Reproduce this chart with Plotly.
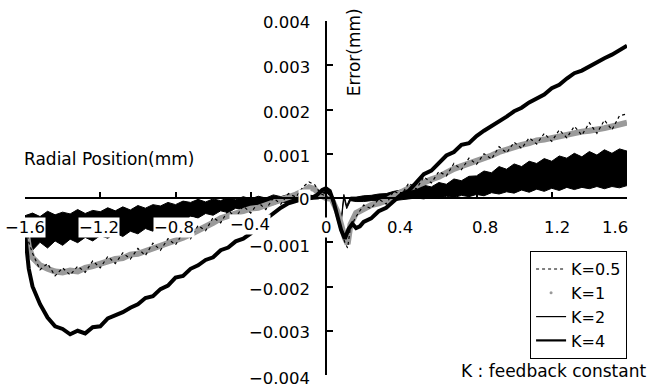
import plotly.graph_objects as go

# ---------------- data (mm) ----------------
x_ticks = [-1.6, -1.2, -0.8, -0.4, 0.0, 0.4, 0.8, 1.2, 1.6]
x_tick_labels = ["\u22121.6", "\u22121.2", "\u22120.8", "\u22120.4", "0", "0.4", "0.8", "1.2", "1.6"]
y_ticks = [-0.004, -0.003, -0.002, -0.001, 0.0, 0.001, 0.002, 0.003, 0.004]
y_tick_labels = ["\u22120.004", "\u22120.003", "\u22120.002", "\u22120.001", "0", "0.001", "0.002", "0.003", "0.004"]

# K=4
x_k4 = [-1.6, -1.58, -1.56, -1.52, -1.48, -1.44, -1.40, -1.36, -1.32, -1.28, -1.24, -1.20,
        -1.16, -1.12, -1.08, -1.04, -1.00, -0.96, -0.92, -0.88, -0.84, -0.80, -0.76, -0.72,
        -0.68, -0.64, -0.60, -0.56, -0.52, -0.48, -0.44, -0.40, -0.36, -0.32, -0.28, -0.24,
        -0.20, -0.16, -0.12, -0.08,
        -0.05, -0.02, 0.0, 0.02, 0.04, 0.06, 0.08, 0.10, 0.12, 0.14, 0.16, 0.18,
        0.20, 0.24, 0.28, 0.32, 0.36, 0.40, 0.44, 0.48, 0.52, 0.56, 0.60, 0.64, 0.68, 0.72,
        0.76, 0.80, 0.84, 0.88, 0.92, 0.96, 1.00, 1.04, 1.08, 1.12, 1.16, 1.20, 1.24, 1.28,
        1.32, 1.36, 1.40, 1.44, 1.48, 1.52, 1.56, 1.60]
y_k4 = [-0.00080, -0.00160, -0.00200, -0.00240, -0.00270, -0.00290, -0.00296, -0.00308,
        -0.00300, -0.00306, -0.00292, -0.00290, -0.00272, -0.00266, -0.00258, -0.00248,
        -0.00240, -0.00226, -0.00222, -0.00206, -0.00198, -0.00180, -0.00176, -0.00160,
        -0.00152, -0.00140, -0.00134, -0.00118, -0.00112, -0.00098, -0.00092, -0.00080,
        -0.00062, -0.00048, -0.00034, -0.00022, -0.00012, -0.00006, -0.00002, 0.00000,
        0.00006, 0.00018, 0.00022, 0.00016, -0.00008, -0.00040, -0.00072, -0.00092,
        -0.00070, -0.00058, -0.00068, -0.00064,
        -0.00054, -0.00046, -0.00030, -0.00022, -0.00008, 0.00008, 0.00016, 0.00036,
        0.00054, 0.00062, 0.00078, 0.00096, 0.00104, 0.00120, 0.00124, 0.00140, 0.00152,
        0.00162, 0.00174, 0.00184, 0.00196, 0.00204, 0.00216, 0.00226, 0.00234, 0.00248,
        0.00256, 0.00270, 0.00282, 0.00288, 0.00298, 0.00308, 0.00316, 0.00324, 0.00334,
        0.00344]

# K=1 and K=0.5 (share x positions)
x_k1 = [-1.6, -1.58, -1.56, -1.52, -1.48, -1.44, -1.40, -1.36, -1.32, -1.28, -1.24, -1.20,
        -1.16, -1.12, -1.08, -1.04, -1.00, -0.96, -0.92, -0.88, -0.84, -0.80, -0.76, -0.72,
        -0.68, -0.64, -0.60, -0.56, -0.52, -0.48, -0.44, -0.40, -0.36, -0.32, -0.28, -0.24,
        -0.20, -0.16, -0.12,
        -0.09, -0.06, -0.03, 0.0, 0.03, 0.06, 0.08, 0.10, 0.115, 0.13, 0.16,
        0.20, 0.24, 0.28, 0.32, 0.36, 0.40, 0.44, 0.48, 0.52, 0.56, 0.60, 0.64, 0.68, 0.72,
        0.76, 0.80, 0.84, 0.88, 0.92, 0.96, 1.00, 1.04, 1.08, 1.12, 1.16, 1.20, 1.24, 1.28,
        1.32, 1.36, 1.40, 1.44, 1.48, 1.52, 1.56, 1.60]
y_k1 = [-0.00050, -0.00110, -0.00135, -0.00152, -0.00160, -0.00166, -0.00168, -0.00164,
        -0.00166, -0.00158, -0.00154, -0.00148, -0.00144, -0.00138, -0.00136, -0.00128,
        -0.00126, -0.00120, -0.00114, -0.00108, -0.00104, -0.00096, -0.00090, -0.00082,
        -0.00074, -0.00064, -0.00056, -0.00046, -0.00040, -0.00034, -0.00030, -0.00024,
        -0.00022, -0.00016, -0.00012, -0.00006, 0.00000, 0.00008, 0.00016,
        0.00024, 0.00020, 0.00006, 0.00000, -0.00002, -0.00030, -0.00064, -0.00090,
        -0.00104, -0.00060, -0.00034,
        -0.00026, -0.00016, -0.00012, -0.00006, 0.00004, 0.00014, 0.00022, 0.00028,
        0.00036, 0.00042, 0.00048, 0.00058, 0.00066, 0.00072, 0.00078, 0.00084, 0.00088,
        0.00096, 0.00104, 0.00110, 0.00114, 0.00120, 0.00124, 0.00130, 0.00132, 0.00136,
        0.00140, 0.00144, 0.00146, 0.00150, 0.00152, 0.00154, 0.00158, 0.00162, 0.00166,
        0.00170]
y_k05 = [-0.00045, -0.00100, -0.00125, -0.00162, -0.00148, -0.00176, -0.00158, -0.00174,
         -0.00154, -0.00168, -0.00142, -0.00158, -0.00132, -0.00148, -0.00124, -0.00138,
         -0.00114, -0.00130, -0.00102, -0.00118, -0.00092, -0.00106, -0.00078, -0.00092,
         -0.00062, -0.00074, -0.00044, -0.00056, -0.00028, -0.00044, -0.00018, -0.00034,
         -0.00010, -0.00026, 0.00000, -0.00014, 0.00010, 0.00002, 0.00026,
         0.00036, 0.00030, 0.00010, 0.00004, -0.00004, -0.00036, -0.00074, -0.00100,
         -0.00113, -0.00066, -0.00042,
         -0.00016, -0.00024, -0.00002, -0.00014, 0.00016, 0.00006, 0.00034, 0.00020,
         0.00048, 0.00034, 0.00060, 0.00050, 0.00078, 0.00064, 0.00090, 0.00076, 0.00100,
         0.00088, 0.00116, 0.00102, 0.00126, 0.00112, 0.00136, 0.00122, 0.00146, 0.00128,
         0.00154, 0.00136, 0.00162, 0.00142, 0.00170, 0.00146, 0.00176, 0.00154, 0.00186,
         0.00190]

# K=2 (noisy band: upper / lower envelope)
x_k2 = [-1.60, -1.56, -1.52, -1.48, -1.44, -1.40, -1.36, -1.32, -1.28, -1.24, -1.20, -1.16,
        -1.12, -1.08, -1.04, -1.00, -0.96, -0.92, -0.88, -0.84, -0.80, -0.76, -0.72, -0.68,
        -0.64, -0.60, -0.56, -0.52, -0.48, -0.44, -0.40, -0.36, -0.32, -0.28, -0.24, -0.20,
        -0.16, -0.12, -0.08, -0.04,
        -0.02, 0.0, 0.02, 0.04, 0.06, 0.08, 0.095, 0.11, 0.13, 0.16, 0.20,
        0.24, 0.28, 0.32, 0.36, 0.40, 0.44, 0.48, 0.52, 0.56, 0.60, 0.64, 0.68, 0.72, 0.76,
        0.80, 0.84, 0.88, 0.92, 0.96, 1.00, 1.04, 1.08, 1.12, 1.16, 1.20, 1.24, 1.28, 1.32,
        1.36, 1.40, 1.44, 1.48, 1.52, 1.56, 1.60]
k2_upper = [-0.00040, -0.00034, -0.00042, -0.00030, -0.00038, -0.00032, -0.00036, -0.00026,
            -0.00035, -0.00028, -0.00031, -0.00022, -0.00029, -0.00020, -0.00027, -0.00017,
            -0.00023, -0.00015, -0.00018, -0.00010, -0.00015, -0.00007, -0.00010, -0.00003,
            -0.00009, -0.00002, -0.00006, 0.00001, -0.00004, 0.00003, -0.00002, 0.00004,
            0.00000, 0.00007, 0.00003, 0.00008, 0.00005, 0.00010, 0.00006, 0.00004,
            0.00012, 0.00018, 0.00012, -0.00006, -0.00034, -0.00052, 0.00008, -0.00018,
            0.00002, 0.00002, 0.00005,
            0.00006, 0.00009, 0.00010, 0.00015, 0.00018, 0.00023, 0.00019, 0.00029, 0.00025,
            0.00035, 0.00031, 0.00043, 0.00039, 0.00049, 0.00050, 0.00061, 0.00057, 0.00071,
            0.00065, 0.00077, 0.00071, 0.00083, 0.00078, 0.00089, 0.00083, 0.00095, 0.00090,
            0.00101, 0.00093, 0.00105, 0.00097, 0.00109, 0.00101, 0.00111, 0.00106]
k2_lower = [-0.00090, -0.00118, -0.00100, -0.00113, -0.00097, -0.00107, -0.00093, -0.00101,
            -0.00089, -0.00097, -0.00085, -0.00091, -0.00079, -0.00087, -0.00075, -0.00081,
            -0.00069, -0.00075, -0.00061, -0.00061, -0.00049, -0.00053, -0.00041, -0.00045,
            -0.00035, -0.00039, -0.00029, -0.00033, -0.00023, -0.00027, -0.00019, -0.00021,
            -0.00013, -0.00015, -0.00009, -0.00011, -0.00005, -0.00005, -0.00003, -0.00002,
            0.00006, 0.00012, 0.00006, -0.00012, -0.00040, -0.00060, 0.00002, -0.00024,
            -0.00006, -0.00008, -0.00008,
            -0.00006, -0.00007, -0.00004, -0.00006, -0.00004, -0.00003, 0.00000, -0.00002,
            0.00002, -0.00001, 0.00004, 0.00001, 0.00006, 0.00003, 0.00008, 0.00005, 0.00012,
            0.00009, 0.00014, 0.00011, 0.00018, 0.00013, 0.00020, 0.00015, 0.00022, 0.00017,
            0.00024, 0.00019, 0.00024, 0.00021, 0.00026, 0.00021, 0.00026, 0.00023, 0.00028]

series_names = ["K=0.5", "K=1", "K=2", "K=4"]

# ---------------- figure ----------------
FONT = "DejaVu Sans"
GRAY = "#9a9a9a"
fig = go.Figure()

fig.add_trace(go.Scatter(x=x_k2, y=k2_lower, mode="lines", line=dict(color="black", width=1),
                         showlegend=False, hoverinfo="skip"))
fig.add_trace(go.Scatter(x=x_k2, y=k2_upper, mode="lines", line=dict(color="black", width=1),
                         fill="tonexty", fillcolor="black", showlegend=False, hoverinfo="skip"))
fig.add_trace(go.Scatter(x=x_k1, y=y_k1, mode="lines", line=dict(color=GRAY, width=6),
                         showlegend=False))
fig.add_trace(go.Scatter(x=x_k1, y=y_k05, mode="lines",
                         line=dict(color="black", width=1.2, dash="dot"), showlegend=False))
fig.add_trace(go.Scatter(x=x_k4, y=y_k4, mode="lines", line=dict(color="black", width=4),
                         showlegend=False))

# legend entries
fig.add_trace(go.Scatter(x=[None], y=[None], mode="lines", name=series_names[0],
                         line=dict(color="black", width=1, dash="dot")))
fig.add_trace(go.Scatter(x=[None], y=[None], mode="markers", name=series_names[1],
                         marker=dict(color=GRAY, size=3)))
fig.add_trace(go.Scatter(x=[None], y=[None], mode="lines", name=series_names[2],
                         line=dict(color="black", width=1.2)))
fig.add_trace(go.Scatter(x=[None], y=[None], mode="lines", name=series_names[3],
                         line=dict(color="black", width=2.2)))

annotations = []
# x tick labels (white boxes over the data, as in the original)
x_label_shift = [0, -1, -2, -1, 0, -1, 8, 5, -12]
x_label_yshift = [-29, -29, -29, -26, -29, -29, -29, -29, -29]
for v, t, s, ys in zip(x_ticks, x_tick_labels, x_label_shift, x_label_yshift):
    annotations.append(dict(x=v, y=0, xref="x", yref="y", text=t, showarrow=False,
                            xanchor="center", yanchor="middle", yshift=ys, xshift=s,
                            bgcolor="white", borderpad=0,
                            font=dict(family=FONT, size=16.5, color="black")))
# y tick labels, left of the central axis
y_label_yshift = [-3, -2, -3, -4, -1, -3, -3, -2, -1]
for v, t, ys in zip(y_ticks, y_tick_labels, y_label_yshift):
    annotations.append(dict(x=0, y=v, xref="x", yref="y", text=t, showarrow=False,
                            xanchor="right", yanchor="middle", xshift=-15, yshift=ys,
                            bgcolor="white" if v == 0 else None, borderpad=0,
                            font=dict(family=FONT, size=16.5, color="black")))
annotations.append(dict(x=-0.005, y=0.61, xref="paper", yref="paper", text="Radial Position(mm)",
                        showarrow=False, xanchor="left", yanchor="middle",
                        font=dict(family=FONT, size=17, color="black")))
annotations.append(dict(x=0.5465, y=0.912, xref="paper", yref="paper", text="Error(mm)",
                        showarrow=False, textangle=-90, xanchor="center", yanchor="middle",
                        font=dict(family=FONT, size=17, color="black")))
annotations.append(dict(x=1.035, y=0.01, xref="paper", yref="paper", text="K : feedback constant",
                        showarrow=False, xanchor="right", yanchor="middle",
                        font=dict(family=FONT, size=17, color="black")))

fig.update_layout(
    width=651, height=387,
    margin=dict(l=25, r=24, t=21, b=12),
    paper_bgcolor="white", plot_bgcolor="white",
    showlegend=True,
    legend=dict(x=0.839, y=0.35, xanchor="left", yanchor="top", bgcolor="white",
                bordercolor="black", borderwidth=1, traceorder="normal",
                font=dict(family=FONT, size=16, color="black")),
    xaxis=dict(range=[-1.6, 1.6], anchor="free", position=0.5, showline=True,
               linecolor="black", linewidth=1.5, ticks="inside", ticklen=5, tickwidth=1.5,
               tickcolor="black", tickvals=x_ticks, showticklabels=False, automargin=False,
               showgrid=False, zeroline=False, fixedrange=True),
    yaxis=dict(range=[-0.004, 0.004], anchor="free", position=0.5, showline=True,
               linecolor="black", linewidth=1.5, ticks="inside", ticklen=6, tickwidth=1.5,
               tickcolor="black", tickvals=y_ticks, showticklabels=False, automargin=False,
               showgrid=False, zeroline=False, fixedrange=True),
    annotations=annotations,
)

fig.write_html("out.html")
